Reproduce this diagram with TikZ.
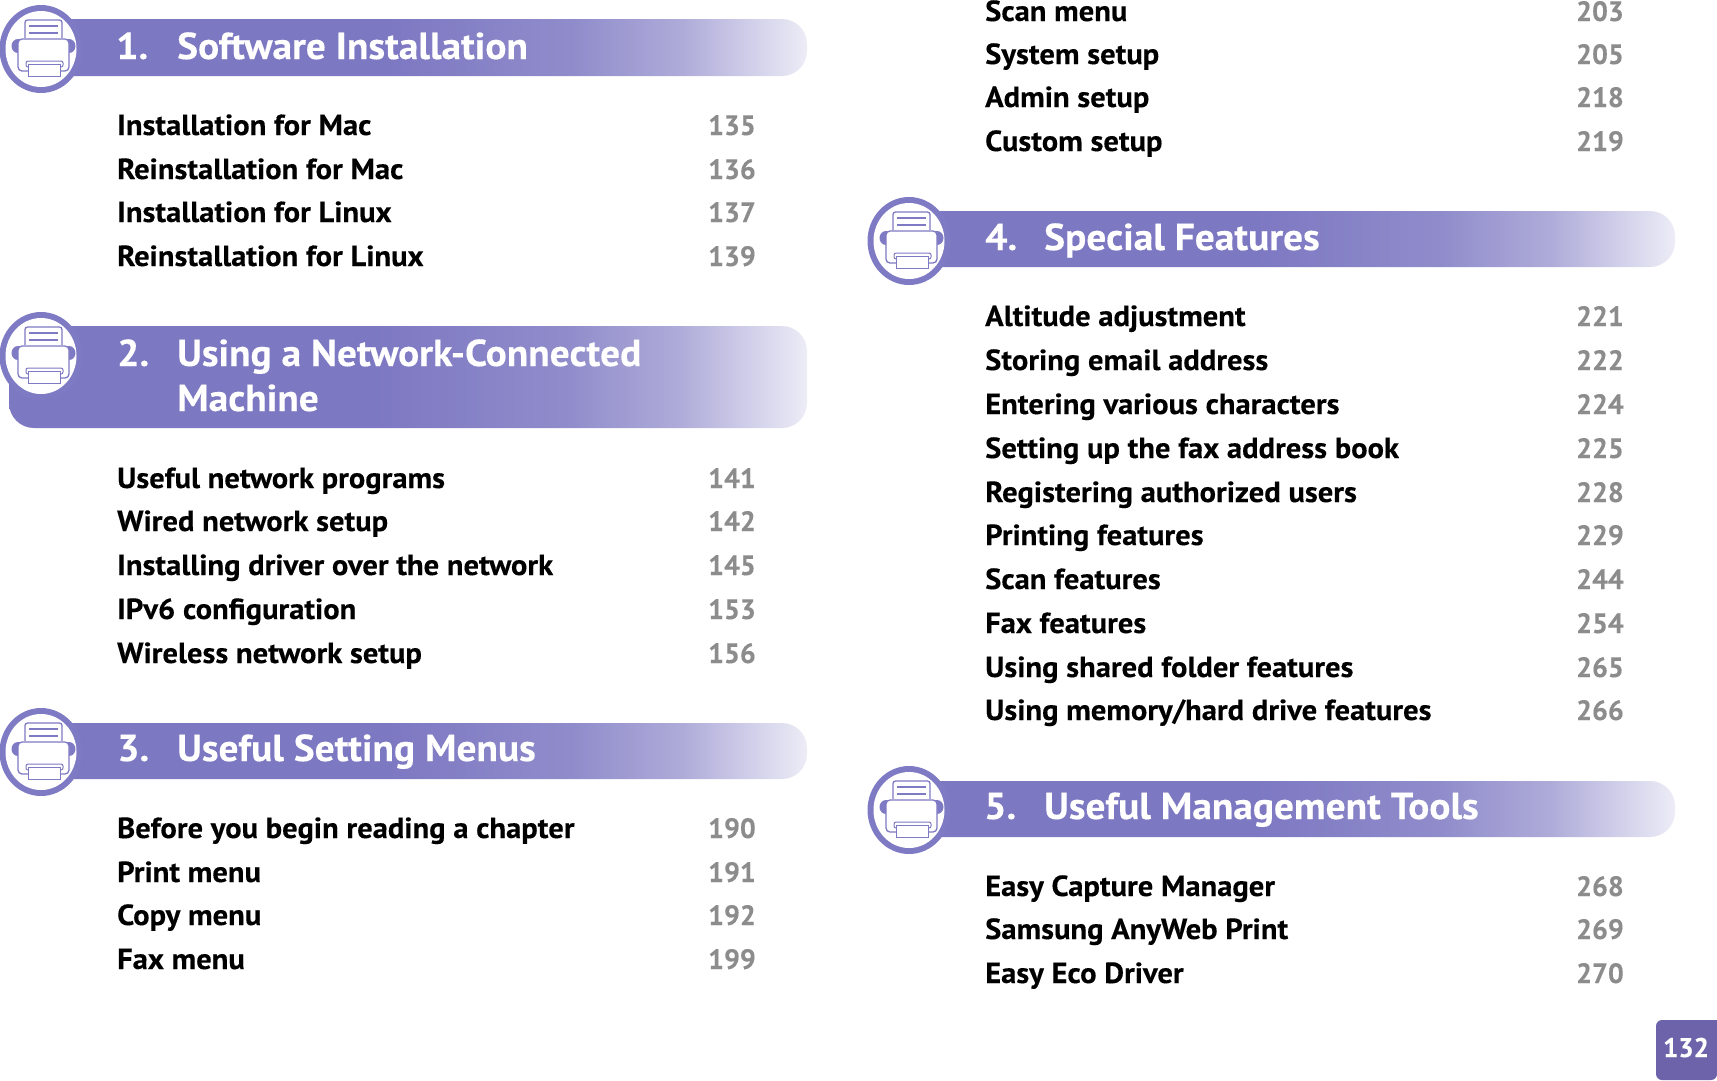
\documentclass[tikz,border=0pt]{standalone}
\usepackage{fontspec}
\setmainfont{PT Sans}[BoldFeatures={FakeStretch=1.05,FakeBold=0.25}]
\newfontfamily\numfont{PT Sans}[BoldFeatures={FakeBold=0.25}]
\definecolor{barc}{HTML}{7D78C2}
\definecolor{ringc}{HTML}{7F7AC4}
\definecolor{numc}{HTML}{8C8C8C}
\definecolor{pagec}{HTML}{6C63AB}
\pgfdeclarehorizontalshading{barshade}{100bp}{color(0bp)=(barc); color(48bp)=(barc); color(60bp)=(barc!85!white); color(67bp)=(barc!62!white); color(75bp)=(barc!14!white); color(100bp)=(barc!14!white)}
\tikzset{
 itemtext/.style={anchor=base west,inner sep=0pt,font=\bfseries\fontsize{29.1}{29.1}\selectfont,text=black},
 numtext/.style={anchor=base east,inner sep=0pt,font=\numfont\bfseries\fontsize{28}{28}\selectfont,text=numc},
 headtext/.style={anchor=base west,inner sep=0pt,font=\bfseries\fontsize{37.5}{37.5}\selectfont,text=white},
 barfill/.style={shading=barshade,draw=none},
 pline/.style={draw=ringc,line width=1.3pt},
 printer/.pic={
  \fill[ringc] (0,0) ellipse[x radius=41.5,y radius=44];
  \fill[white] (0,0) ellipse[x radius=35.5,y radius=38];
  \fill[ringc] (-23,-3) ellipse[x radius=6.5,y radius=7];
  \fill[ringc] (28,-3) ellipse[x radius=6.5,y radius=7];
  \draw[pline,fill=white,rounded corners=2.5pt] (-16,-11) -- (-16,-29) -- (21,-29) -- (21,-11);
  \draw[ringc,line width=1.8pt] (-12,-23) -- (17,-23) (-12,-16) -- (17,-16);
  \draw[pline,fill=white,rounded corners=4pt] (-23,-10) rectangle (28,22);
  \draw[ringc,line width=1pt,fill=white,rounded corners=2pt] (-15,12) rectangle (22,18);
  \draw[ringc,line width=1pt,fill=white] (-13,15) rectangle (19,27);
 }
}
\begin{document}
\begin{tikzpicture}[x=1pt,y=-1pt]
\useasboundingbox (0,0) rectangle (1717,1080);
% bars
\path[barfill] (30,19) [rounded corners=25pt] -- (807,19) -- (807,76) [sharp corners] -- (30,76) -- cycle;
\path[barfill] (30,326) [rounded corners=25pt] -- (807,326) -- (807,428) -- (9,428) [sharp corners] -- (9,340) -- cycle;
\path[barfill] (30,723) [rounded corners=25pt] -- (807,723) -- (807,779) [sharp corners] -- (30,779) -- cycle;
\path[barfill] (898,211) [rounded corners=25pt] -- (1675,211) -- (1675,267) [sharp corners] -- (898,267) -- cycle;
\path[barfill] (898,781) [rounded corners=25pt] -- (1675,781) -- (1675,837) [sharp corners] -- (898,837) -- cycle;
% icons
\pic at (41,49) {printer};
\pic at (41,356) {printer};
\pic at (41,752) {printer};
\pic at (909,241) {printer};
\pic at (909,810) {printer};
% headers
\node[headtext] (h1n) at (116,59) {1.};
\node[headtext] (h1t) at (177,59) {Software Installation};
\node[headtext] (h2n) at (117,366) {2.};
\node[headtext] (h2t) at (177,366) {Using a Network-Connected};
\node[headtext] (h2u) at (177,411) {Machine};
\node[headtext] (h3n) at (117,761) {3.};
\node[headtext] (h3t) at (177,761) {Useful Setting Menus};
\node[headtext] (h4n) at (985,250) {4.};
\node[headtext] (h4t) at (1044,250) {Special Features};
\node[headtext] (h5n) at (984,819) {5.};
\node[headtext] (h5t) at (1044,819) {Useful Management Tools};
% left column
\foreach \n/\y/\t/\p in {
 a1/135/Installation for Mac/135, a2/179/Reinstallation for Mac/136, a3/222/Installation for Linux/137, a4/266/Reinstallation for Linux/139,
 b1/488/Useful network programs/141, b2/531/Wired network setup/142, b3/575/Installing driver over the network/145, b4/619/IPv6 configuration/153, b5/663/Wireless network setup/156,
 c1/838/Before you begin reading a chapter/190, c2/882/Print menu/191, c3/925/Copy menu/192, c4/969/Fax menu/199}
 {\node[itemtext] (\n) at (117,\y) {\t}; \node[numtext] (\n p) at (756,\y) {\p};}
% right column
\foreach \n/\y/\t/\p in {
 d1/21/Scan menu/203, d2/64/System setup/205, d3/107/Admin setup/218, d4/151/Custom setup/219,
 e1/326/Altitude adjustment/221, e2/370/Storing email address/222, e3/414/Entering various characters/224, e4/458/Setting up the fax address book/225, e5/502/Registering authorized users/228, e6/545/Printing features/229, e7/589/Scan features/244, e8/633/Fax features/254, e9/677/Using shared folder features/265, e10/720/Using memory\slash hard drive features/266,
 f1/896/Easy Capture Manager/268, f2/939/Samsung AnyWeb Print/269, f3/983/Easy Eco Driver/270}
 {\node[itemtext] (\n) at (985,\y) {\t}; \node[numtext] (\n p) at (1624,\y) {\p};}
% page
\fill[pagec,rounded corners=6pt] (1717,1020) -- (1656,1020) -- (1656,1080) -- (1717,1080) [sharp corners] -- cycle;
\node[anchor=base,inner sep=0pt,text=white,font=\numfont\bfseries\fontsize{27}{27}\selectfont] (pg) at (1686,1057) {132};
\end{tikzpicture}
\end{document}
